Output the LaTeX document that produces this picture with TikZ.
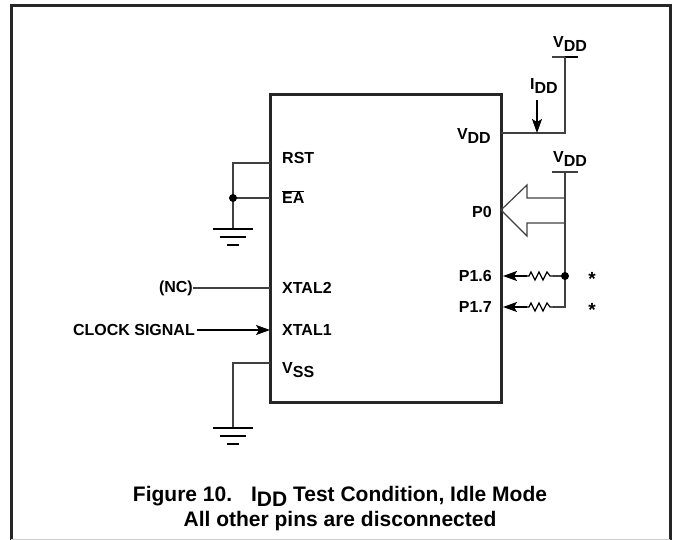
\documentclass[tikz,border=0pt]{standalone}
\usepackage{fontspec}
\setmainfont{Liberation Sans}
\usetikzlibrary{arrows.meta,calc}
\newcommand{\sbs}[1]{\raisebox{-0.45ex}{#1}}
\begin{document}
\begin{tikzpicture}[x=1pt,y=-1pt,
  lbl/.style={font=\fontsize{16}{19}\selectfont\bfseries, inner sep=0pt},
  captxt/.style={font=\fontsize{21}{25}\selectfont\bfseries, inner sep=0pt, align=center},
  wire/.style={line width=1.2pt, black!75},
  thickline/.style={line width=3pt, black!85},
  tip/.style={-{Stealth[length=14pt,width=10pt,inset=3pt]}},
  dotc/.style={circle, fill=black, inner sep=0pt, minimum size=8pt}]
\useasboundingbox (0,0) rectangle (673,540);
% frame
\draw[thickline] (11,540) -- (11,6) -- (670,6) -- (670,540);
\draw[line width=1pt, black!20] (11,539) -- (670,539);
% chip
\node[thickline, draw, minimum width=231pt, minimum height=308pt, inner sep=0pt] (chip) at (385.5,249) {};
% pin labels
\node[lbl, anchor=west] (rst) at (282,158) {RST};
\node[lbl, anchor=west] (ea) at (282,197) {$\overline{\hbox{EA}}$};
\node[lbl, anchor=west] (xtal2) at (282,288) {XTAL2};
\node[lbl, anchor=west] (xtal1) at (282,330) {XTAL1};
\node[lbl, anchor=west] (vss) at (282,370) {V\sbs{SS}};
\node[lbl, anchor=east] (vddpin) at (491,136) {V\sbs{DD}};
\node[lbl, anchor=east] (p0) at (492,212) {P0};
\node[lbl, anchor=east] (p16) at (492,276) {P1.6};
\node[lbl, anchor=east] (p17) at (492,307) {P1.7};
% external labels
\node[lbl, anchor=west] (vdd1) at (553,44) {V\sbs{DD}};
\node[lbl, anchor=west] (vdd2) at (553,159) {V\sbs{DD}};
\node[lbl, anchor=west] (idd) at (530,86) {I\sbs{DD}};
\node[lbl, font=\fontsize{19}{19}\selectfont\bfseries] (st1) at (592,279) {*};
\node[lbl, font=\fontsize{19}{19}\selectfont\bfseries] (st2) at (592,310) {*};
\node[lbl, anchor=east] (nc) at (193,288) {(NC)};
\node[lbl, anchor=east] (clk) at (195,330) {CLOCK SIGNAL};
% coordinates
\coordinate (vddpinE) at (501,133);
\coordinate (vddjunc) at (565,133);
\coordinate (vdd1bar) at (565,57);
\coordinate (vdd2bar) at (565,172);
\coordinate (iddtop) at (537,100);
\coordinate (iddbot) at (537,133);
\coordinate (p16E) at (503,276);
\coordinate (p17E) at (503,307);
\coordinate (r1a) at (527,276);
\coordinate (r1b) at (553,276);
\coordinate (r2a) at (527,307);
\coordinate (r2b) at (553,307);
\coordinate (j16) at (565,276);
\coordinate (j17) at (565,307);
\coordinate (rstE) at (270,163);
\coordinate (rstL) at (233,163);
\coordinate (eaE) at (270,198);
\coordinate (eaL) at (233,198);
\coordinate (gnd1) at (233,229);
\coordinate (xtal2E) at (270,288);
\coordinate (xtal1E) at (270,330);
\coordinate (vssE) at (270,363);
\coordinate (vssL) at (233,363);
\coordinate (gnd2) at (233,428);
% VDD supply bars
\draw[wire] ($(vdd1bar)+(-13,0)$) -- ($(vdd1bar)+(13,0)$);
\draw[line width=2pt] (vdd1bar) -- ($(vdd1bar)+(13,0)$);
\draw[wire] ($(vdd2bar)+(-13,0)$) -- ($(vdd2bar)+(13,0)$);
% VDD wire
\draw[wire] (vddpinE) -- (vddjunc) -- (vdd1bar);
\draw[line width=1.2pt, tip] (iddtop) -- (iddbot);
% port pull-ups
\draw[wire] (vdd2bar) -- (j17) -- (r2b);
\draw[wire] (565,198) -- (527,198) -- (527,185) -- (501,210) -- (527,236) -- (527,223) -- (565,223);
\draw[wire] (j16) -- (r1b);
\draw[line width=1.2pt] (r1b) -- ++(-3,0) -- ++(-3,-4) -- ++(-4,8) -- ++(-4,-8) -- ++(-4,8) -- ++(-4,-8) -- ++(-2,4) -- (r1a);
\draw[line width=1.2pt] (r2b) -- ++(-3,0) -- ++(-3,-4) -- ++(-4,8) -- ++(-4,-8) -- ++(-4,8) -- ++(-4,-8) -- ++(-2,4) -- (r2a);
\draw[line width=1.2pt, tip] (r1a) -- (p16E);
\draw[line width=1.2pt, tip] (r2a) -- (p17E);
\node[dotc] (dot2) at (j16) {};
% RST / EA
\draw[wire] (rstE) -- (rstL) -- (gnd1);
\draw[wire] (eaE) -- (eaL);
\node[dotc] (dot1) at (eaL) {};
\draw[line width=1.6pt] ($(gnd1)+(-20,0)$) -- ($(gnd1)+(20,0)$);
\draw[line width=1.6pt] ($(gnd1)+(-13,8)$) -- ($(gnd1)+(13,8)$);
\draw[line width=1.6pt] ($(gnd1)+(-6,16)$) -- ($(gnd1)+(6,16)$);
% XTAL
\draw[wire] (nc) -- (xtal2E);
\draw[line width=1.2pt, tip] ($(clk.east)+(2,0)$) -- (xtal1E);
% VSS
\draw[wire] (vssE) -- (vssL) -- (gnd2);
\draw[line width=1.6pt] ($(gnd2)+(-20,0)$) -- ($(gnd2)+(20,0)$);
\draw[line width=1.6pt] ($(gnd2)+(-13,8)$) -- ($(gnd2)+(13,8)$);
\draw[line width=1.6pt] ($(gnd2)+(-6,16)$) -- ($(gnd2)+(6,16)$);
% caption
\node[captxt] (caption) at (340,509) {Figure 10.\hspace{0.9em}I\sbs{DD} Test Condition, Idle Mode\\All other pins are disconnected};
\end{tikzpicture}
\end{document}
